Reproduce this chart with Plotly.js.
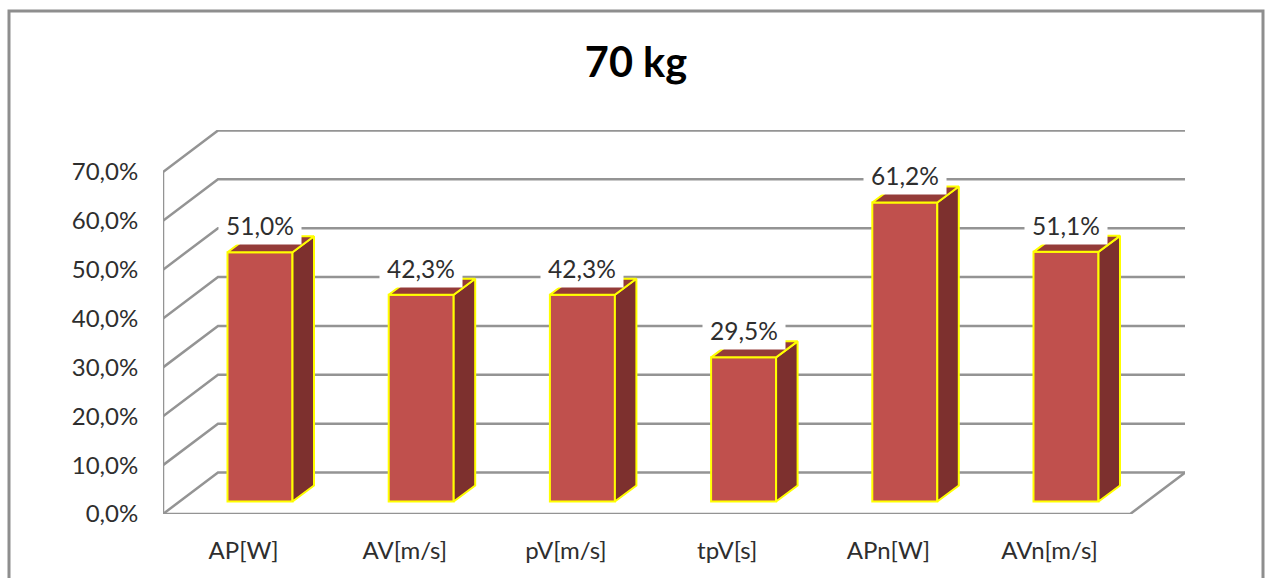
<!DOCTYPE html>
<html>
<head>
<meta charset="utf-8">
<script src="https://cdn.plot.ly/plotly-3.0.1.min.js"></script>
<style>html,body{margin:0;padding:0;background:#fff}#c{width:1266px;height:578px}</style>
</head>
<body>
<div id="c"></div>
<script>
const categories = ["AP[W]", "AV[m/s]", "pV[m/s]", "tpV[s]", "APn[W]", "AVn[m/s]"];
const values = [51.0, 42.3, 42.3, 29.5, 61.2, 51.1];
const valueLabels = ["51,0%", "42,3%", "42,3%", "29,5%", "61,2%", "51,1%"];
const yTicks = [0, 10, 20, 30, 40, 50, 60, 70];
const yTickLabels = ["0,0%", "10,0%", "20,0%", "30,0%", "40,0%", "50,0%", "60,0%", "70,0%"];

// pixel scale of the axes
const W = 1266, H = 578;
const mL = 163, mR = 81, mT = 130, mB = 64;
const pxX = 161.2, pxY = 4.886;
const plotW = W - mL - mR, plotH = H - mT - mB;
const wallDX = 55 / pxX, wallDY = 41.5 / pxY;
const barDX = 21.5 / pxX, barDY = 16 / pxY;
const barW = 65 / pxX;
const shiftX = 16.4 / pxX, shiftY = 12.5 / pxY;
const xMin = -0.5, xMax = xMin + plotW / pxX, yMax = plotH / pxY;
const xIdx = categories.map((_, i) => i);

const gridColor = "#949494";
const gx = [], gy = [];
yTicks.forEach(v => {
  gx.push(xMin, xMin + wallDX, xMin + 6 + wallDX, null);
  gy.push(v, v + wallDY, v + wallDY, null);
});
// left edge of the front, floor
gx.push(xMin, xMin, null, xMin, xMin + 6, xMin + 6 + wallDX, null);
gy.push(0, 70, null, 0, 0, wallDY, null);

const sx = [], sy = [], tx = [], ty = [];
values.forEach((v, i) => {
  const r = i + barW / 2, l = i - barW / 2;
  sx.push(r, r + barDX, r + barDX, r, r, null);
  sy.push(0, barDY, v + barDY, v, 0, null);
  tx.push(l, l + barDX, r + barDX, r, l, null);
  ty.push(v, v + barDY, v + barDY, v, v, null);
});

const yellow = "#FFFF00";
const traces = [
  {type: "scatter", mode: "lines", x: gx, y: gy, xaxis: "x", yaxis: "y",
   line: {color: gridColor, width: 2.5}, cliponaxis: false, hoverinfo: "skip", showlegend: false},
  {type: "bar", x: xIdx, y: values, width: barW, xaxis: "x2", yaxis: "y2",
   marker: {color: "#C0504D", line: {color: yellow, width: 2}}, hoverinfo: "skip", showlegend: false},
  {type: "scatter", mode: "lines", x: sx, y: sy, xaxis: "x2", yaxis: "y2", fill: "toself",
   fillcolor: "#7D302E", line: {color: yellow, width: 2}, cliponaxis: false, hoverinfo: "skip", showlegend: false},
  {type: "scatter", mode: "lines", x: tx, y: ty, xaxis: "x2", yaxis: "y2", fill: "toself",
   fillcolor: "#943B38", line: {color: yellow, width: 2}, cliponaxis: false, hoverinfo: "skip", showlegend: false}
];

const font = "Lato, 'Open Sans', sans-serif";
const textColor = "#2e2e2e";
const layout = {
  width: W, height: H,
  margin: {l: mL, r: mR, t: mT, b: mB, pad: 0},
  paper_bgcolor: "#fff", plot_bgcolor: "rgba(0,0,0,0)",
  showlegend: false,
  title: {text: "<b>70 kg</b>", font: {family: font, size: 41.5, color: "#000"},
          x: 636 / W, xanchor: "center", y: 1 - 62 / H, yanchor: "middle"},
  xaxis: {range: [xMin, xMax], tickmode: "array", tickvals: xIdx, ticktext: categories,
          ticks: "outside", ticklen: 15, tickcolor: "rgba(0,0,0,0)", showgrid: false, zeroline: false, showline: false,
          tickfont: {family: font, size: 24, color: textColor}, fixedrange: true},
  yaxis: {range: [0, yMax], tickmode: "array", tickvals: yTicks, ticktext: yTickLabels,
          ticks: "outside", ticklen: 19, tickcolor: "rgba(0,0,0,0)", showgrid: false, zeroline: false, showline: false,
          tickfont: {family: font, size: 24, color: textColor}, fixedrange: true},
  xaxis2: {overlaying: "x", range: [xMin - shiftX, xMax - shiftX], visible: false, fixedrange: true},
  yaxis2: {overlaying: "y", range: [-shiftY, yMax - shiftY], visible: false, fixedrange: true},
  annotations: values.map((v, i) => ({
    xref: "x2", yref: "y2", x: i, y: v, xanchor: "center", yanchor: "bottom", yshift: 7,
    text: valueLabels[i], showarrow: false, bgcolor: "#fff", width: 82, height: 33, valign: "top", borderpad: 0,
    font: {family: font, size: 24.5, color: textColor}
  })),
  shapes: [{type: "rect", xref: "paper", yref: "paper", layer: "below",
            x0: (9 - mL) / plotW, x1: (1263 - mL) / plotW,
            y0: -0.3, y1: (H - mB - 11) / plotH,
            line: {color: "#8e8e8e", width: 3}, fillcolor: "#fff"}]
};
Plotly.newPlot("c", traces, layout, {displayModeBar: false, staticPlot: true});
</script>
</body>
</html>
